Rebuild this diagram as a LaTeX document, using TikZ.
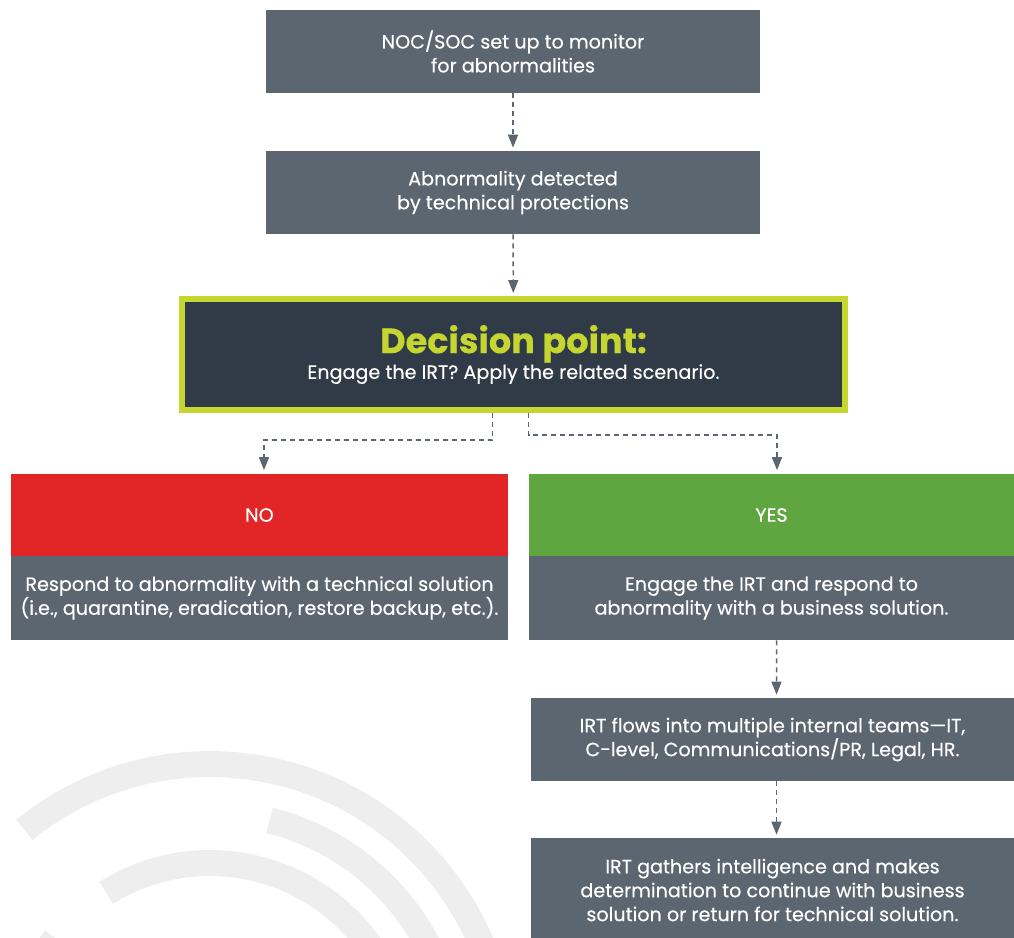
\documentclass[tikz,border=0pt]{standalone}
\usepackage{fontspec}
\setmainfont{Poppins}[FakeBold=0.35]
\usetikzlibrary{arrows.meta}
\definecolor{boxgray}{HTML}{5B6671}
\definecolor{darkbox}{HTML}{313B48}
\definecolor{lime}{HTML}{C5D631}
\definecolor{nored}{HTML}{E22527}
\definecolor{yesgreen}{HTML}{5FA641}
\definecolor{ringgray}{HTML}{EDEEED}
\begin{document}
\begin{tikzpicture}[x=0.02cm, y=-0.02cm, >={Triangle[length=0.26cm,width=0.2cm]},
  box/.style={fill=boxgray, text=white, align=center, inner sep=0pt,
    minimum height=1.66cm, font=\fontsize{10.9}{13.6}\selectfont},
  flow/.style={->, boxgray, line width=0.03cm, dash pattern=on 0.1cm off 0.08cm, shorten >=0.06cm},
  ring/.style={ringgray, line width=0.52cm}]
  \useasboundingbox (0,0) rectangle (1014,937);

  % background rings
  \coordinate (c) at (210,1059);
  \draw[ring] (c) ++(129:5.9cm) arc[start angle=129, end angle=-20, radius=5.9cm];
  \draw[ring] (c) ++(76:4.92cm) arc[start angle=76, end angle=-30, radius=4.92cm];
  \draw[ring] (c) ++(122:3.92cm) arc[start angle=122, end angle=-30, radius=3.92cm];
  \draw[ring] (c) ++(142:3.92cm) arc[start angle=142, end angle=200, radius=3.92cm];

  \node[box, minimum width=9.88cm] (noc) at (513,51.5) {NOC/SOC set up to monitor\\for abnormalities};
  \node[box, minimum width=9.88cm] (detect) at (513,192.5) {Abnormality detected\\by technical protections};

  \node[box, fill=darkbox, draw=lime, line width=0.12cm, minimum width=13.26cm, minimum height=2.22cm] (decide) at (513.5,354.5)
    {{\fontsize{20}{22}\selectfont\bfseries\color{lime}Decision point:}\\[0pt]Engage the IRT? Apply the related scenario.};

  \node[box, fill=nored, minimum width=9.94cm] (no) at (259.5,515) {NO};
  \node[box, minimum width=9.94cm, minimum height=1.68cm] (nobody) at (259.5,598)
    {Respond to abnormality with a technical solution\\(i.e., quarantine, eradication, restore backup, etc.).};
  \node[box, fill=yesgreen, minimum width=9.7cm] (yes) at (771.5,515) {YES};
  \node[box, minimum width=9.7cm, minimum height=1.68cm] (yesbody) at (771.5,598)
    {Engage the IRT and respond to\\abnormality with a business solution.};

  \node[box, minimum width=9.66cm] (teams) at (772.5,739.5)
    {IRT flows into multiple internal teams---IT,\\C-level, Communications/PR, Legal, HR.};
  \node[box, minimum width=9.66cm, minimum height=2.08cm] (gather) at (772.5,890)
    {IRT gathers intelligence and makes\\determination to continue with business\\solution or return for technical solution.};

  \draw[flow] (noc) -- (detect);
  \draw[flow] (detect) -- (decide);
  \draw[flow] ([xshift=-0.42cm]decide.south) -- ++(0,27) -| ([xshift=0.09cm]no.north);
  \draw[flow] ([xshift=0.3cm]decide.south) -- ++(0,22) -| ([xshift=0.11cm]yes.north);
  \draw[flow] ([xshift=0.1cm]yesbody.south) -- ([xshift=0.08cm]teams.north);
  \draw[flow] ([xshift=0.08cm]teams.south) -- ([xshift=0.08cm]gather.north);
\end{tikzpicture}
\end{document}
